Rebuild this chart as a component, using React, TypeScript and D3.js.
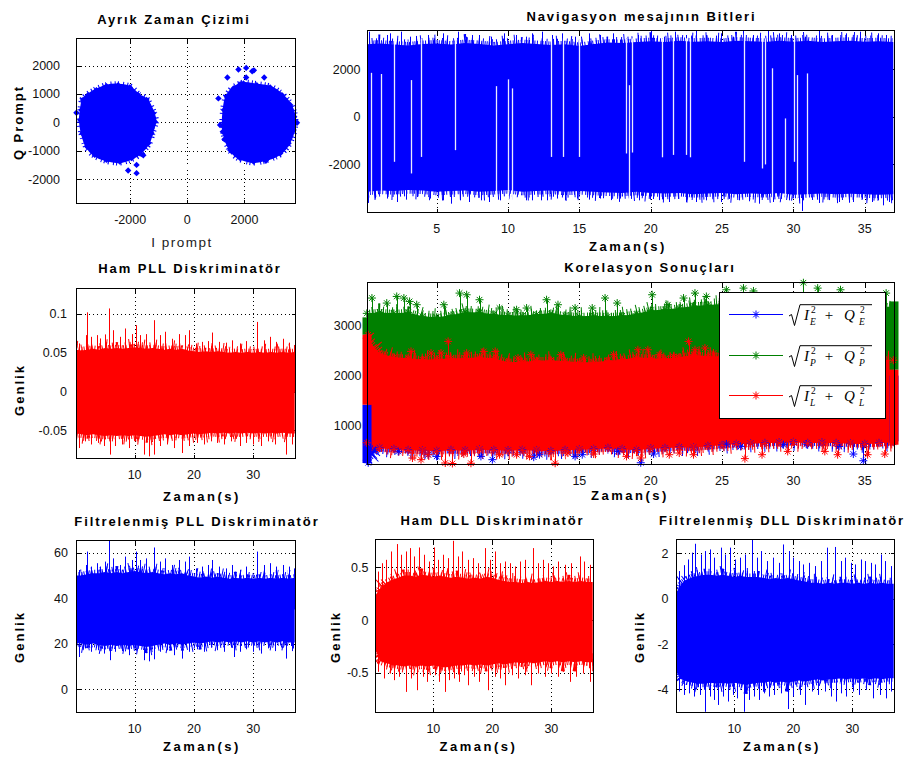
import React from 'react';
import * as d3 from 'd3';

// sample times for the band envelopes (s)
const envTimes = [0.1, 1, 2, 3, 4, 5, 6, 7, 8, 9, 10, 11, 12, 13, 14, 15, 16, 17, 18, 19, 20, 21, 22, 23, 24, 25, 26, 27, 28, 29, 30, 31, 32, 33, 34, 35, 36, 37];

// --- Ayrık Zaman Çizimi (I/Q scatter): cluster outlines + stray points
const leftCluster = [[-3706, 432], [-3648, 783], [-3473, 958], [-3180, 1133], [-2830, 1274], [-2420, 1309], [-2011, 1228], [-1719, 958], [-1427, 783], [-1193, 316], [-1135, 21], [-1252, -386], [-1368, -737], [-1660, -1088], [-1953, -1263], [-2362, -1383], [-2830, -1323], [-3239, -1148], [-3508, -856], [-3672, -386], [-3742, 81]];
const rightCluster = [[1288, 432], [1381, 898], [1615, 1193], [1966, 1368], [2434, 1309], [2901, 1228], [3311, 958], [3603, 607], [3743, 196], [3720, -270], [3544, -737], [3252, -1088], [2784, -1298], [2316, -1383], [1849, -1263], [1557, -1032], [1358, -621], [1264, -154]];
const strayPoints = [[-3880, 337], [-2070, -1700], [-1775, -1500], [-1775, -1790], [-1540, -1160], [-1200, 100], [-1250, -200], [1790, 1860], [2060, 1916], [2270, 1800], [2330, 1830], [1403, 1579], [2060, 1579], [2691, 1579], [1088, 842], [1854, 1340], [1147, -95], [1242, -330], [1498, -972], [2750, -1358], [3839, -14], [1300, -600], [2480, -1100]];

// --- Navigasyon mesajının Bitleri
const navTop = [3050, 3080, 3040, 3000, 3060, 3080, 3040, 3100, 3060, 3000, 3050, 3100, 3060, 3020, 3050, 2980, 3060, 3120, 3100, 3150, 3180, 3150, 3200, 3160, 3180, 3150, 3200, 3180, 3150, 3200, 3160, 3200, 3150, 3180, 3200, 3160, 3180, 3150];
const navBottom = [-3150, -3100, -3120, -3080, -3100, -3150, -3120, -3100, -3150, -3120, -3080, -3150, -3120, -3100, -3150, -3120, -3150, -3180, -3200, -3150, -3200, -3220, -3200, -3250, -3220, -3200, -3250, -3220, -3250, -3200, -3280, -3250, -3220, -3250, -3230, -3250, -3280, -3250];
const navUp = [[0.23, 3580], [0.72, 3300], [1.51, 3440], [1.74, 3510], [2.52, 3580], [3.1, 3370], [3.56, 3400], [4.37, 3440], [4.84, 3300], [5.42, 3510], [6.47, 3580], [7.05, 3370], [7.5, 3440], [7.98, 3440], [8.8, 3370], [9.72, 3510], [10.54, 3440], [11.24, 3370], [11.7, 3510], [12.4, 3580], [13.1, 3440], [13.79, 3510], [14.72, 3370], [15.66, 3510], [16.47, 3440], [17.38, 3510], [18.3, 3300], [19.12, 3440], [20.05, 3620], [20.9, 3370], [21.68, 3580], [22.5, 3440], [23.2, 3650], [23.9, 3440], [24.94, 3510], [25.8, 3370], [26.45, 3650], [27.2, 3440], [28.2, 3620], [29.0, 3510], [29.82, 3440], [30.8, 3370], [31.8, 3620], [32.7, 3440], [33.66, 3510], [34.7, 3580], [35.9, 3510], [36.5, 3440]];
const navDown = [[0.18, -3620], [0.65, -3435], [1.51, -3435], [2.2, -3580], [2.85, -3480], [3.6, -3370], [4.5, -3435], [5.42, -3510], [6.0, -3650], [6.6, -3510], [7.28, -3580], [8.1, -3510], [8.7, -3580], [9.44, -3510], [10.3, -3480], [11.24, -3510], [11.7, -3510], [12.3, -3510], [12.74, -3510], [13.44, -3435], [14.0, -3510], [14.8, -3435], [15.66, -3480], [16.47, -3435], [17.2, -3500], [17.85, -3435], [18.6, -3450], [19.2, -3510], [19.93, -3480], [20.6, -3500], [21.3, -3580], [21.9, -3450], [22.5, -3580], [23.2, -3580], [23.9, -3510], [24.94, -3580], [25.5, -3450], [26.2, -3510], [26.9, -3550], [27.6, -3650], [28.55, -3580], [29.1, -3450], [29.7, -3510], [30.6, -3957], [31.8, -3620], [32.5, -3500], [33.2, -3580], [34.2, -3580], [34.8, -3450], [35.5, -3580], [35.9, -3500], [36.3, -3720], [36.7, -3580]];
// white breaks in the band: [time, from, to]
const navGaps = [[0.38, 1850, -3500], [1.12, 1800, -3370], [1.98, 3300, -1890], [3.21, 1545, -2380], [3.91, 3300, -1685], [6.28, 3300, -1400], [9.14, 1290, -3790], [10.02, 1575, -3500], [10.25, 1195, -3500], [13.02, 3300, -1685], [13.86, 3300, -1685], [15.0, 3300, -1685], [18.24, 3300, -1540], [18.49, 1330, -3500], [18.66, 3300, -1500], [20.8, 3300, -1700], [21.57, 3300, -1600], [22.45, 3300, -1600], [22.73, 3300, -1700], [26.56, 3500, -1890], [27.8, 3300, -2170], [28.0, 3300, -2000], [28.48, 2040, -3400], [29.42, -67, -3400], [30.05, 3300, -1890], [30.22, 1755, -3400], [30.94, 1825, -3400]];

// --- Ham PLL Diskriminatör
const pllRawTop = [0.054, 0.053, 0.054, 0.055, 0.054, 0.056, 0.055, 0.056, 0.055, 0.056, 0.057, 0.056, 0.055, 0.056, 0.055, 0.054, 0.055, 0.054, 0.055, 0.053, 0.052, 0.051, 0.052, 0.051, 0.052, 0.051, 0.05, 0.051, 0.05, 0.051, 0.05, 0.051, 0.05, 0.051, 0.05, 0.051, 0.05, 0.051];
const pllRawBottom = [-0.054, -0.055, -0.056, -0.055, -0.056, -0.057, -0.056, -0.057, -0.056, -0.057, -0.056, -0.057, -0.058, -0.057, -0.056, -0.055, -0.056, -0.055, -0.056, -0.055, -0.054, -0.055, -0.054, -0.053, -0.054, -0.053, -0.054, -0.053, -0.054, -0.053, -0.054, -0.053, -0.054, -0.053, -0.054, -0.053, -0.054, -0.054];
const pllRawUp = [[0.58, 0.062], [1.8, 0.0727], [2.03, 0.102], [2.6, 0.0705], [3.6, 0.0727], [4.2, 0.0684], [5.0, 0.0736], [5.76, 0.107], [6.4, 0.079], [7.6, 0.0705], [8.4, 0.0812], [9.5, 0.074], [10.3, 0.0855], [10.9, 0.0727], [12.0, 0.074], [13.2, 0.0919], [14.2, 0.0727], [15.2, 0.077], [16.3, 0.068], [17.5, 0.074], [18.5, 0.0727], [19.2, 0.079], [20.3, 0.062], [21.4, 0.064], [22.3, 0.065], [23.1, 0.076], [24.3, 0.064], [25.4, 0.063], [26.5, 0.066], [27.7, 0.062], [28.8, 0.065], [30.6, 0.0897], [31.9, 0.066], [32.9, 0.0705], [33.9, 0.064], [35.0, 0.068], [36.1, 0.063], [36.9, 0.06]];
const pllRawDown = [[0.7, -0.0726], [1.6, -0.064], [2.7, -0.068], [3.9, -0.066], [4.9, -0.07], [5.9, -0.081], [6.7, -0.07], [7.8, -0.068], [9.0, -0.0726], [10.1, -0.064], [11.5, -0.081], [12.5, -0.0833], [13.2, -0.081], [14.3, -0.07], [15.4, -0.068], [16.6, -0.0726], [18.0, -0.079], [19.2, -0.07], [20.5, -0.066], [21.7, -0.068], [22.8, -0.064], [23.9, -0.066], [25.1, -0.068], [26.2, -0.064], [27.7, -0.07], [28.8, -0.066], [29.9, -0.068], [31.4, -0.07], [32.5, -0.064], [33.7, -0.068], [35.5, -0.081], [36.5, -0.068]];

// --- Filtrelenmiş PLL Diskriminatör
const pllFiltTop = [50, 50, 50.5, 51, 51, 51.5, 51, 51.5, 51, 51.5, 52, 51.5, 51, 51.5, 51, 50.5, 51, 50.5, 51, 50, 49.5, 49, 49.5, 49, 49.5, 49, 48.5, 49, 48.5, 49, 48.5, 49, 48.5, 49, 48.5, 49, 48.5, 49];
const pllFiltBottom = [20.5, 20, 19.5, 20, 19.5, 19, 19.5, 19, 19.5, 19, 19.5, 19, 18.5, 19, 19.5, 20, 19.5, 20, 19.5, 20, 20.5, 20, 20.5, 21, 20.5, 21, 20.5, 21, 20.5, 21, 20.5, 21, 20.5, 21, 20.5, 21, 20.5, 20.5];
const pllFiltUp = [[0.58, 52.4], [1.8, 54.6], [2.03, 60.5], [2.6, 53.9], [3.6, 55.4], [4.2, 53.9], [5.0, 56.1], [5.76, 65.6], [6.4, 57.5], [7.6, 54.6], [8.4, 58.3], [9.5, 56.8], [10.3, 60.5], [10.9, 56.8], [12.0, 57.5], [13.2, 62.3], [14.2, 56.1], [15.2, 57.5], [16.3, 54.6], [17.5, 56.8], [18.5, 56.1], [19.2, 58.3], [20.3, 53.1], [21.4, 53.9], [22.3, 54.6], [23.1, 56.8], [24.3, 53.9], [25.4, 53.1], [26.5, 54.6], [27.7, 52.4], [28.8, 53.9], [30.6, 60.5], [31.9, 54.6], [32.9, 55.4], [33.9, 53.9], [35.0, 54.6], [36.1, 53.9], [36.9, 53.1]];
const pllFiltDown = [[0.7, 14.1], [1.6, 17.9], [2.7, 16.4], [3.9, 17.1], [4.9, 15.6], [5.9, 12.7], [6.7, 16.4], [7.8, 16.7], [9.0, 14.9], [10.1, 17.9], [11.5, 12.7], [12.5, 12.2], [13.2, 13.1], [14.3, 16.4], [15.4, 17.1], [16.6, 14.9], [18.0, 13.4], [19.2, 16.4], [20.5, 17.5], [21.7, 16.4], [22.8, 18.2], [23.9, 17.1], [25.1, 16.4], [26.2, 18.2], [26.8, 14.1], [27.7, 16.4], [28.8, 17.5], [29.9, 16.4], [31.4, 15.6], [32.5, 17.9], [33.7, 16.7], [35.5, 13.4], [36.5, 16.7]];

// --- Ham DLL Diskriminatör
const dllRawTop = [0.22, 0.3, 0.35, 0.38, 0.4, 0.42, 0.42, 0.41, 0.43, 0.42, 0.41, 0.42, 0.41, 0.4, 0.41, 0.4, 0.39, 0.4, 0.39, 0.41, 0.4, 0.38, 0.37, 0.36, 0.36, 0.35, 0.36, 0.35, 0.36, 0.37, 0.36, 0.37, 0.36, 0.37, 0.36, 0.37, 0.36, 0.36];
const dllRawBottom = [-0.27, -0.39, -0.41, -0.42, -0.43, -0.44, -0.43, -0.44, -0.43, -0.44, -0.43, -0.44, -0.45, -0.44, -0.43, -0.43, -0.42, -0.43, -0.42, -0.43, -0.42, -0.41, -0.42, -0.41, -0.4, -0.41, -0.4, -0.41, -0.4, -0.39, -0.4, -0.39, -0.4, -0.39, -0.4, -0.39, -0.4, -0.4];
const dllRawUp = [[0.6, 0.458], [1.3, 0.537], [2.0, 0.569], [2.8, 0.648], [3.85, 0.718], [4.5, 0.617], [5.4, 0.648], [6.1, 0.68], [6.8, 0.601], [7.6, 0.686], [8.4, 0.617], [9.3, 0.553], [10.06, 0.686], [10.8, 0.569], [11.7, 0.617], [12.5, 0.585], [13.3, 0.749], [14.1, 0.601], [14.8, 0.648], [15.8, 0.569], [16.8, 0.585], [17.6, 0.537], [18.7, 0.68], [19.6, 0.569], [20.4, 0.648], [21.3, 0.537], [22.1, 0.553], [23.0, 0.537], [23.8, 0.506], [24.7, 0.553], [25.5, 0.569], [26.8, 0.68], [27.8, 0.537], [28.6, 0.569], [29.4, 0.537], [30.3, 0.506], [31.1, 0.553], [32.3, 0.522], [33.4, 0.537], [34.8, 0.601], [35.6, 0.553], [36.5, 0.522]];
const dllRawDown = [[0.7, -0.49], [1.7, -0.553], [2.6, -0.506], [3.4, -0.569], [4.2, -0.537], [5.4, -0.68], [6.2, -0.553], [7.2, -0.664], [8.2, -0.537], [9.0, -0.585], [10.2, -0.522], [11.0, -0.585], [11.9, -0.68], [12.7, -0.569], [13.5, -0.553], [14.4, -0.585], [15.2, -0.522], [15.8, -0.617], [16.9, -0.537], [17.8, -0.585], [19.2, -0.664], [20.4, -0.537], [21.3, -0.553], [22.1, -0.617], [23.3, -0.522], [24.4, -0.553], [25.5, -0.522], [26.6, -0.617], [27.8, -0.506], [28.9, -0.537], [30.0, -0.506], [31.1, -0.537], [32.0, -0.49], [33.1, -0.585], [34.2, -0.537], [35.4, -0.506], [36.5, -0.585]];

// --- Filtrelenmiş DLL Diskriminatör
const dllFiltTop = [0.2, 0.65, 0.85, 0.95, 1.0, 1.05, 1.05, 1.0, 1.05, 1.0, 0.95, 1.0, 0.95, 0.95, 0.95, 0.9, 0.85, 0.9, 0.85, 0.9, 0.85, 0.8, 0.75, 0.7, 0.7, 0.65, 0.7, 0.65, 0.7, 0.7, 0.65, 0.7, 0.65, 0.7, 0.65, 0.7, 0.65, 0.65];
const dllFiltBottom = [-3.2, -3.55, -3.65, -3.7, -3.75, -3.75, -3.7, -3.75, -3.7, -3.75, -3.7, -3.75, -3.8, -3.75, -3.7, -3.7, -3.65, -3.7, -3.65, -3.7, -3.65, -3.6, -3.65, -3.6, -3.55, -3.6, -3.55, -3.55, -3.5, -3.55, -3.5, -3.55, -3.5, -3.55, -3.5, -3.55, -3.5, -3.5];
const dllFiltUp = [[0.7, 1.21], [1.4, 1.47], [2.1, 1.72], [2.8, 2.02], [3.4, 2.41], [4.4, 1.94], [5.1, 2.09], [5.9, 2.16], [6.6, 1.8], [7.8, 2.24], [8.5, 1.94], [9.3, 2.24], [10.1, 1.72], [10.9, 1.8], [11.8, 1.94], [13.0, 2.63], [13.9, 1.8], [14.6, 2.09], [15.5, 1.65], [16.6, 1.8], [17.5, 1.57], [18.3, 2.38], [19.2, 2.09], [20.0, 1.8], [20.9, 1.65], [21.7, 1.5], [22.6, 1.57], [23.7, 1.43], [24.6, 1.65], [25.7, 2.24], [27.0, 2.27], [28.0, 1.65], [28.8, 1.8], [29.7, 1.57], [30.5, 1.5], [31.4, 1.72], [32.2, 1.65], [33.1, 1.57], [33.9, 1.5], [34.8, 1.94], [35.6, 1.65], [36.5, 1.43]];
const dllFiltDown = [[0.6, -4.09], [1.5, -4.24], [2.4, -4.17], [3.2, -4.31], [4.1, -4.24], [5.0, -4.98], [5.9, -4.31], [6.6, -4.46], [7.3, -4.68], [8.1, -4.31], [8.9, -4.53], [9.7, -4.24], [10.5, -4.39], [11.6, -4.98], [12.4, -4.46], [13.4, -4.31], [14.2, -4.46], [15.1, -4.17], [15.9, -4.31], [16.8, -4.24], [17.9, -4.17], [19.1, -4.86], [20.0, -4.31], [21.1, -4.24], [21.9, -4.68], [23.1, -4.09], [24.2, -4.24], [25.3, -4.09], [26.3, -4.31], [27.2, -4.53], [28.1, -4.17], [29.0, -4.31], [30.1, -4.09], [31.2, -4.24], [32.3, -4.02], [33.5, -4.39], [34.6, -4.24], [35.7, -4.39], [36.5, -4.09]];

// --- Korelasyon Sonuçları (E = blue, P = green, L = red)
const corTopE = [1415, 1300, 1280, 1260, 1250, 1260, 1240, 1250, 1260, 1250, 1240, 1250, 1260, 1250, 1240, 1250, 1260, 1270, 1280, 1270, 1290, 1300, 1310, 1320, 1330, 1340, 1350, 1350, 1360, 1350, 1360, 1350, 1360, 1350, 1340, 1350, 1340, 1330];
const corBottomE = [300, 550, 530, 510, 500, 490, 510, 500, 520, 510, 500, 510, 500, 490, 510, 520, 530, 550, 530, 510, 540, 550, 570, 560, 590, 610, 630, 640, 650, 660, 670, 650, 660, 650, 640, 630, 650, 670];
const corUpE: number[][] = [];
const corDownE = [[0.2, 250], [0.6, 478], [2.3, 478], [4.4, 412], [5.0, 378], [8.1, 378], [8.9, 312], [11.8, 362], [12.2, 412], [14.7, 378], [15.2, 412], [17.7, 478], [19.3, 250], [20.2, 425], [25.3, 625], [26.3, 578], [29.3, 612], [30.9, 625], [33.2, 578], [34.2, 425], [34.9, 290]];
const corTopP = [3250, 3270, 3250, 3270, 3190, 3170, 3210, 3280, 3270, 3230, 3210, 3200, 3230, 3250, 3210, 3190, 3200, 3190, 3200, 3240, 3310, 3330, 3360, 3400, 3420, 3440, 3460, 3460, 3480, 3460, 3480, 3460, 3480, 3460, 3450, 3430, 3410, 3370];
const corBottomP = [2000, 1950, 1900, 1900, 1880, 1900, 1900, 1920, 1900, 1880, 1860, 1880, 1900, 1900, 1880, 1860, 1880, 1900, 1920, 1950, 1980, 2000, 2000, 2050, 2050, 2080, 2100, 2100, 2100, 2080, 2100, 2080, 2100, 2080, 2060, 2050, 2050, 2050];
const corUpP = [[0.46, 3558], [1.5, 3457], [2.2, 3590], [2.7, 3558], [3.1, 3490], [3.6, 3424], [5.5, 3424], [6.6, 3657], [7.1, 3624], [8.0, 3524], [9.4, 3357], [10.6, 3323], [11.3, 3357], [12.7, 3524], [13.5, 3424], [14.7, 3357], [15.9, 3357], [16.8, 3558], [17.65, 3457], [20.1, 3624], [21.2, 3424], [22.3, 3558], [23.1, 3657], [23.9, 3590], [25.3, 3724], [26.5, 3757], [27.2, 3700], [30.7, 3865], [31.7, 3757], [33.3, 3724], [36.5, 3657]];
const corDownP: number[][] = [];
const corTopL = [2750, 2450, 2370, 2350, 2320, 2330, 2350, 2350, 2370, 2350, 2270, 2280, 2300, 2310, 2290, 2270, 2270, 2300, 2320, 2370, 2350, 2340, 2370, 2420, 2390, 2390, 2400, 2390, 2400, 2390, 2380, 2390, 2370, 2380, 2370, 2350, 2330, 2310];
const corBottomL = [650, 540, 520, 500, 490, 480, 500, 490, 510, 500, 490, 500, 490, 480, 500, 510, 520, 540, 520, 500, 530, 540, 560, 550, 580, 600, 620, 630, 640, 650, 660, 640, 650, 640, 630, 620, 640, 660];
const corUpL = [[0.2, 2820], [3.2, 2486], [4.6, 2453], [5.3, 2453], [5.8, 2687], [7.1, 2453], [8.3, 2486], [9.1, 2486], [10.7, 2353], [11.6, 2420], [13.7, 2420], [15.3, 2353], [17.4, 2420], [19.1, 2520], [19.8, 2520], [20.6, 2420], [21.6, 2386], [22.65, 2687], [23.1, 2520], [23.8, 2553], [24.4, 2453]];
const corDownL = [[3.3, 345], [3.9, 312], [4.4, 412], [5.6, 245], [6.1, 235], [6.9, 425], [7.4, 240], [9.4, 412], [10.6, 412], [11.5, 378], [13.3, 240], [14.2, 445], [16.0, 425], [18.3, 378], [19.3, 345], [21.3, 412], [22.0, 445], [23.0, 412], [26.6, 333], [27.8, 412], [29.6, 478], [32.2, 478], [33.1, 412], [35.2, 412], [36.4, 425]];
// marker columns at the first / last sample: [from, to]
const corStartE = [245, 1415];
const corStartP = [2820, 3170];
const corStartL = [1415, 2820];
const corEndE = [680, 2000];
const corEndP = [2118, 3490];
const corEndL = [612, 2118];

const legendSubs = ['E', 'P', 'L'];
const legendColors = ['#0000ff', '#008000', '#ff0000'];

const timeTicksWide = [5, 10, 15, 20, 25, 30, 35];
const timeTicks = [10, 20, 30];

const SANS = '"Liberation Sans", Arial, Helvetica, sans-serif';
const SERIF = '"Liberation Serif", "DejaVu Serif", serif';
const BLUE = '#0000ff';
const RED = '#ff0000';
const GREEN = '#008000';
const T_DOMAIN: [number, number] = [0.115, 37.05];

// comb strokes that give the dense signal bands their hairy edge
const combs = [
  { w: 7, dash: '1 1.5 1 2.5 1 1' },
  { w: 12, dash: '1 4 1 6 1 3 1 8' },
  { w: 18, dash: '1 11 1 17 1 23 1 13' },
];

type Box = { x: number; y: number; w: number; h: number };
type Scale = d3.ScaleLinear<number, number>;

const starPath = (r: number) =>
  `M${-r},0H${r}M0,${-r}V${r}M${-0.7 * r},${-0.7 * r}L${0.7 * r},${0.7 * r}M${-0.7 * r},${0.7 * r}L${0.7 * r},${-0.7 * r}`;
const diamondPath = (r: number) => `M0,${-r}L${r},0L0,${r}L${-r},0Z`;
const crisp = (v: number) => Math.round(v) + 0.5;

function Axes(props: {
  id: string; box: Box; xDomain: [number, number]; yDomain: [number, number];
  xTicks: number[]; yTicks: number[]; gap: number;
  draw: (x: Scale, y: Scale) => React.ReactNode;
  free?: (x: Scale, y: Scale) => React.ReactNode;
}) {
  const { id, box, xDomain, yDomain, xTicks, yTicks, gap, draw, free } = props;
  const x = d3.scaleLinear().domain(xDomain).range([box.x, box.x + box.w]);
  const y = d3.scaleLinear().domain(yDomain).range([box.y + box.h, box.y]);
  const L = box.x + 0.5, R = box.x + box.w + 0.5, T = box.y + 0.5, B = box.y + box.h + 0.5;
  return (
    <g>
      <defs>
        <clipPath id={id}><rect x={box.x} y={box.y} width={box.w + 1} height={box.h + 1} /></clipPath>
      </defs>
      <rect x={box.x} y={box.y} width={box.w} height={box.h} fill="#fff" />
      <g stroke="#000" strokeWidth={1} strokeDasharray="1,3" shapeRendering="crispEdges">
        {xTicks.map(t => <line key={'gx' + t} x1={crisp(x(t))} x2={crisp(x(t))} y1={T} y2={B} />)}
        {yTicks.map(t => <line key={'gy' + t} x1={L} x2={R} y1={crisp(y(t))} y2={crisp(y(t))} />)}
      </g>
      <g stroke="#000" strokeWidth={1} shapeRendering="crispEdges">
        {xTicks.map(t => <line key={'tb' + t} x1={crisp(x(t))} x2={crisp(x(t))} y1={B} y2={B - 4} />)}
        {xTicks.map(t => <line key={'tt' + t} x1={crisp(x(t))} x2={crisp(x(t))} y1={T} y2={T + 4} />)}
        {yTicks.map(t => <line key={'tl' + t} x1={L} x2={L + 4} y1={crisp(y(t))} y2={crisp(y(t))} />)}
        {yTicks.map(t => <line key={'tr' + t} x1={R} x2={R - 4} y1={crisp(y(t))} y2={crisp(y(t))} />)}
      </g>
      <g clipPath={`url(#${id})`}>{draw(x, y)}</g>
      {free && free(x, y)}
      <rect x={L} y={T} width={box.w} height={box.h} fill="none" stroke="#000" strokeWidth={1} shapeRendering="crispEdges" />
      <g fontFamily={SANS} fontSize={12.5} fill="#111">
        {xTicks.map(t => <text key={'lx' + t} x={x(t)} y={box.y + box.h + 21} textAnchor="middle">{String(t)}</text>)}
        {yTicks.map(t => <text key={'ly' + t} x={box.x - gap} y={y(t) + 4.5} textAnchor="end">{String(t)}</text>)}
      </g>
    </g>
  );
}

function Band(props: { x: Scale; y: Scale; top: number[]; bottom: number[]; up: number[][]; down: number[][]; color: string }) {
  const { x, y, top, bottom, up, down, color } = props;
  const area = d3.area<number>()
    .x((_, i) => x(envTimes[i]))
    .y0((_, i) => y(bottom[i]))
    .y1(d => y(d));
  const edge = d3.line<number>().x((_, i) => x(envTimes[i])).y(d => y(d));
  const topEdge = edge(top) ?? '';
  const bottomEdge = edge(bottom) ?? '';
  const mid = ((d3.mean(top) ?? 0) + (d3.mean(bottom) ?? 0)) / 2;
  return (
    <g>
      <path d={area(top) ?? ''} fill={color} />
      <g fill="none" stroke={color}>
        {combs.map((c, i) => (
          <g key={i} strokeWidth={c.w} strokeDasharray={c.dash}>
            <path d={topEdge} />
            <path d={bottomEdge} strokeDashoffset={3 + i} />
          </g>
        ))}
      </g>
      <g stroke={color} strokeWidth={1}>
        {[...up, ...down].map(([t, v], i) => (
          <line key={i} x1={crisp(x(t))} x2={crisp(x(t))} y1={y(mid)} y2={y(v)} />
        ))}
      </g>
    </g>
  );
}

function Stars(props: { pts: number[][]; color: string }) {
  const d = starPath(4);
  return (
    <g stroke={props.color} strokeWidth={1} fill="none">
      {props.pts.map(([px, py], i) => <path key={i} d={d} transform={`translate(${px},${py})`} />)}
    </g>
  );
}

function Title(props: { text: string; x: number; y: number }) {
  return (
    <text x={props.x} y={props.y} textAnchor="middle" fontFamily={SANS} fontWeight="bold" fontSize={13} letterSpacing={1.9}>
      {props.text}
    </text>
  );
}

function XLabel(props: { x: number; y: number }) {
  return (
    <text x={props.x} y={props.y} textAnchor="middle" fontFamily={SANS} fontWeight="bold" fontSize={13} letterSpacing={2.5}>
      Zaman(s)
    </text>
  );
}

function YLabel(props: { text: string; x: number; y: number }) {
  return (
    <text transform={`translate(${props.x},${props.y}) rotate(-90)`} textAnchor="middle" fontFamily={SANS} fontWeight="bold" fontSize={13} letterSpacing={2}>
      {props.text}
    </text>
  );
}

function SqrtLabel(props: { x0: number; cy: number; sub: string }) {
  const { x0, cy, sub } = props;
  return (
    <g fontFamily={SERIF} fill="#000">
      <path d={`M${x0},${cy + 2}L${x0 + 2.5},${cy + 0.5}L${x0 + 5.5},${cy + 11.5}L${x0 + 11},${cy - 9.3}H${x0 + 83}`} fill="none" stroke="#000" strokeWidth={1} />
      <text x={x0 + 15} y={cy + 5.7} fontSize={15} fontStyle="italic">I</text>
      <text x={x0 + 22} y={cy - 1.2} fontSize={9.5}>2</text>
      <text x={x0 + 21} y={cy + 10.5} fontSize={9.5} fontStyle="italic">{sub}</text>
      <text x={x0 + 40} y={cy + 5.7} fontSize={15} textAnchor="middle">+</text>
      <text x={x0 + 55} y={cy + 5.7} fontSize={15} fontStyle="italic">Q</text>
      <text x={x0 + 71} y={cy - 1.2} fontSize={9.5}>2</text>
      <text x={x0 + 70} y={cy + 10.5} fontSize={9.5} fontStyle="italic">{sub}</text>
    </g>
  );
}

function Legend() {
  const rows = [314, 355, 395];
  return (
    <g>
      <rect x={719.5} y={292.5} width={166} height={126} fill="#fff" stroke="#000" strokeWidth={1} shapeRendering="crispEdges" />
      {rows.map((cy, i) => (
        <g key={i}>
          <line x1={729} x2={783} y1={cy + 0.5} y2={cy + 0.5} stroke={legendColors[i]} strokeWidth={1} />
          <path d={starPath(4)} transform={`translate(756,${cy + 0.5})`} stroke={legendColors[i]} strokeWidth={1} fill="none" />
          <SqrtLabel x0={789} cy={cy} sub={legendSubs[i]} />
        </g>
      ))}
    </g>
  );
}

function App() {
  const scatterLine = d3.line<number[]>().curve(d3.curveCardinalClosed.tension(0.3));
  const envPts = (x: Scale, y: Scale, vals: number[]) => envTimes.map((t, i) => [x(t), y(vals[i])]);
  const tipPts = (x: Scale, y: Scale, pts: number[][]) => pts.map(([t, v]) => [x(t), y(v)]);
  const column = (x: Scale, y: Scale, t: number, range: number[], color: string) => (
    <rect x={x(t) - 4.5} y={y(range[1])} width={9} height={y(range[0]) - y(range[1])} fill={color} />
  );

  return (
    <svg width={918} height={763} viewBox="0 0 918 763" style={{ position: 'absolute', left: 0, top: 0, background: '#fff' }}>
      <rect width={918} height={763} fill="#fff" />

      {/* Ayrık Zaman Çizimi */}
      <Axes id="c1" box={{ x: 76, y: 38, w: 219, h: 165 }} xDomain={[-3895, 3769]} yDomain={[-2842, 2969]}
        xTicks={[-2000, 0, 2000]} yTicks={[-2000, -1000, 0, 1000, 2000]} gap={16}
        draw={() => null}
        free={(x, y) => {
          const line = scatterLine.x(d => x(d[0])).y(d => y(d[1]));
          const dia = diamondPath(3.2);
          return (
            <g fill={BLUE}>
              <path d={line(leftCluster) ?? ''} stroke={BLUE} strokeWidth={3} strokeLinejoin="round" />
              <path d={line(rightCluster) ?? ''} stroke={BLUE} strokeWidth={3} strokeLinejoin="round" />
              <g fill="none" stroke={BLUE}>
                <path d={line(leftCluster) ?? ''} strokeWidth={8} strokeDasharray="1 2 1 4 1 3" />
                <path d={line(rightCluster) ?? ''} strokeWidth={8} strokeDasharray="1 3 1 2 1 5" />
              </g>
              {[...leftCluster, ...rightCluster, ...strayPoints].map((p, i) => (
                <path key={i} d={dia} transform={`translate(${x(p[0])},${y(p[1])})`} />
              ))}
            </g>
          );
        }}
      />
      <Title text="Ayrık Zaman Çizimi" x={174} y={23.5} />
      <text x={182} y={247} textAnchor="middle" fontFamily={SANS} fontSize={13.5} letterSpacing={1.5} fill="#222">I prompt</text>
      <YLabel text="Q Prompt" x={23} y={122.5} />

      {/* Navigasyon mesajının Bitleri */}
      <Axes id="c2" box={{ x: 367, y: 30, w: 527, h: 182 }} xDomain={T_DOMAIN} yDomain={[-4000, 3650]}
        xTicks={timeTicksWide} yTicks={[-2000, 0, 2000]} gap={6.5}
        draw={(x, y) => (
          <g>
            <Band x={x} y={y} top={navTop} bottom={navBottom} up={navUp} down={navDown} color={BLUE} />
            <g stroke="#fff" strokeWidth={1.3} strokeOpacity={0.92}>
              {navGaps.map(([t, a, b], i) => <line key={i} x1={crisp(x(t))} x2={crisp(x(t))} y1={y(a)} y2={y(b)} />)}
            </g>
          </g>
        )}
      />
      <Title text="Navigasyon mesajının Bitleri" x={641.5} y={20.5} />
      <XLabel x={628} y={251} />

      {/* Ham PLL Diskriminatör */}
      <Axes id="c3" box={{ x: 76, y: 288, w: 219, h: 170 }} xDomain={T_DOMAIN} yDomain={[-0.0854, 0.1333]}
        xTicks={timeTicks} yTicks={[-0.05, 0, 0.05, 0.1]} gap={9}
        draw={(x, y) => <Band x={x} y={y} top={pllRawTop} bottom={pllRawBottom} up={pllRawUp} down={pllRawDown} color={RED} />}
      />
      <Title text="Ham PLL Diskriminatör" x={190} y={272.5} />
      <XLabel x={202} y={501} />
      <YLabel text="Genlik" x={24} y={390} />

      {/* Korelasyon Sonuçları */}
      <Axes id="c4" box={{ x: 367, y: 282, w: 527, h: 182 }} xDomain={T_DOMAIN} yDomain={[225, 3880]}
        xTicks={timeTicksWide} yTicks={[1000, 2000, 3000]} gap={5.5}
        draw={(x, y) => (
          <g>
            <Band x={x} y={y} top={corTopE} bottom={corBottomE} up={corUpE} down={corDownE} color={BLUE} />
            <Band x={x} y={y} top={corTopP} bottom={corBottomP} up={corUpP} down={corDownP} color={GREEN} />
            <Band x={x} y={y} top={corTopL} bottom={corBottomL} up={corUpL} down={corDownL} color={RED} />
          </g>
        )}
        free={(x, y) => (
          <g>
            <Stars pts={[...envPts(x, y, corBottomE), ...tipPts(x, y, corDownE)]} color={BLUE} />
            {column(x, y, T_DOMAIN[0], corStartE, BLUE)}
            {column(x, y, T_DOMAIN[1], corEndE, BLUE)}
            <Stars pts={[...envPts(x, y, corTopP), ...tipPts(x, y, corUpP)]} color={GREEN} />
            {column(x, y, T_DOMAIN[0], corStartP, GREEN)}
            {column(x, y, T_DOMAIN[1], corEndP, GREEN)}
            <Stars pts={[...envPts(x, y, corTopL), ...envPts(x, y, corBottomL), ...tipPts(x, y, corUpL), ...tipPts(x, y, corDownL)]} color={RED} />
            {column(x, y, T_DOMAIN[0], corStartL, RED)}
            {column(x, y, T_DOMAIN[1], corEndL, RED)}
            <Legend />
          </g>
        )}
      />
      <Title text="Korelasyon Sonuçları" x={650} y={271.5} />
      <XLabel x={630} y={500} />

      {/* Filtrelenmiş PLL Diskriminatör */}
      <Axes id="c5" box={{ x: 76, y: 540, w: 219, h: 172 }} xDomain={T_DOMAIN} yDomain={[-10.1, 65.6]}
        xTicks={timeTicks} yTicks={[0, 20, 40, 60]} gap={8}
        draw={(x, y) => <Band x={x} y={y} top={pllFiltTop} bottom={pllFiltBottom} up={pllFiltUp} down={pllFiltDown} color={BLUE} />}
      />
      <Title text="Filtrelenmiş PLL Diskriminatör" x={197} y={525.5} />
      <XLabel x={202} y={751} />
      <YLabel text="Genlik" x={24} y={637} />

      {/* Ham DLL Diskriminatör */}
      <Axes id="c6" box={{ x: 375, y: 539, w: 218, h: 173 }} xDomain={T_DOMAIN} yDomain={[-0.87, 0.766]}
        xTicks={timeTicks} yTicks={[-0.5, 0, 0.5]} gap={6.5}
        draw={(x, y) => <Band x={x} y={y} top={dllRawTop} bottom={dllRawBottom} up={dllRawUp} down={dllRawDown} color={RED} />}
      />
      <Title text="Ham DLL Diskriminatör" x={492.5} y={525} />
      <XLabel x={478.5} y={751} />
      <YLabel text="Genlik" x={340} y={637} />

      {/* Filtrelenmiş DLL Diskriminatör */}
      <Axes id="c7" box={{ x: 676, y: 539, w: 218, h: 173 }} xDomain={T_DOMAIN} yDomain={[-4.99, 2.62]}
        xTicks={timeTicks} yTicks={[-4, -2, 0, 2]} gap={7.5}
        draw={(x, y) => <Band x={x} y={y} top={dllFiltTop} bottom={dllFiltBottom} up={dllFiltUp} down={dllFiltDown} color={BLUE} />}
      />
      <Title text="Filtrelenmiş DLL Diskriminatör" x={782} y={525} />
      <XLabel x={782} y={751} />
      <YLabel text="Genlik" x={644} y={637} />
    </svg>
  );
}

export default App;
